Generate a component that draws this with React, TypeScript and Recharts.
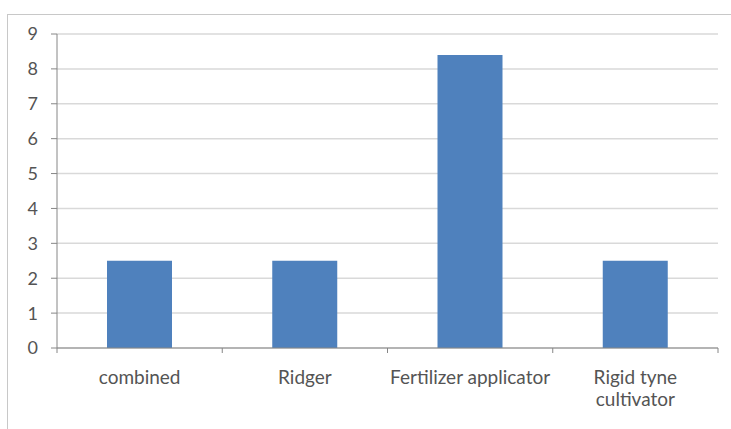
import { Bar, BarChart, CartesianGrid, Text, XAxis, YAxis } from 'recharts'

const categories = ['combined', 'Ridger', 'Fertilizer applicator', 'Rigid tyne\ncultivator']
const values = [2.5, 2.5, 8.4, 2.5]
const yTicks = [0, 1, 2, 3, 4, 5, 6, 7, 8, 9]

const data = categories.map((name, i) => ({ name, value: values[i] }))

const FONT = 'Lato, "Liberation Sans", sans-serif'
const TEXT = '#545454'
const AXIS = '#868686'

function CategoryTick(props: any) {
  const { x, y, payload, index, visibleTicksCount } = props
  const half = payload.offset ?? 82.6
  const lines = String(payload.value).split('\n')
  const last = index === (visibleTicksCount ?? categories.length) - 1
  return (
    <g>
      <line x1={x - half} x2={x - half} y1={y - 8} y2={y - 3} stroke={AXIS} />
      {last && <line x1={x + half} x2={x + half} y1={y - 8} y2={y - 3} stroke={AXIS} />}
      {lines.map((l, i) => (
        <Text
          key={i}
          x={x}
          y={y + 28 + i * 22}
          textAnchor="middle"
          fill={TEXT}
          style={{ fontSize: 19, fontFamily: FONT }}
        >
          {l}
        </Text>
      ))}
    </g>
  )
}

export default function App() {
  return (
    <div style={{ position: 'absolute', left: 0, top: 0, width: 731, height: 429, overflow: 'hidden', background: '#fff' }}>
      <div
        style={{
          position: 'absolute',
          left: 7,
          top: 14,
          width: 760,
          height: 460,
          border: '1px solid #c8c8c8',
        }}
      />
      <div style={{ position: 'absolute', left: 0, top: 0 }}>
        <BarChart
          width={731}
          height={429}
          data={data}
          margin={{ top: 34, right: 13, left: 0, bottom: 0 }}
          barCategoryGap={50}
        >
          <CartesianGrid vertical={false} stroke="#d9d9d9" strokeWidth={1.5} />
          <XAxis
            dataKey="name"
            height={81}
            axisLine={{ stroke: AXIS }}
            tickLine={false}
            interval={0}
            tick={<CategoryTick />}
          />
          <YAxis
            width={57}
            domain={[0, 9]}
            ticks={yTicks}
            interval={0}
            axisLine={{ stroke: AXIS }}
            tickLine={{ stroke: AXIS }}
            tickSize={6}
            tickMargin={13}
            tick={{ fill: TEXT, fontSize: 18, fontFamily: FONT }}
          />
          <Bar dataKey="value" fill="#4f81bd" isAnimationActive={false} />
        </BarChart>
      </div>
    </div>
  )
}
